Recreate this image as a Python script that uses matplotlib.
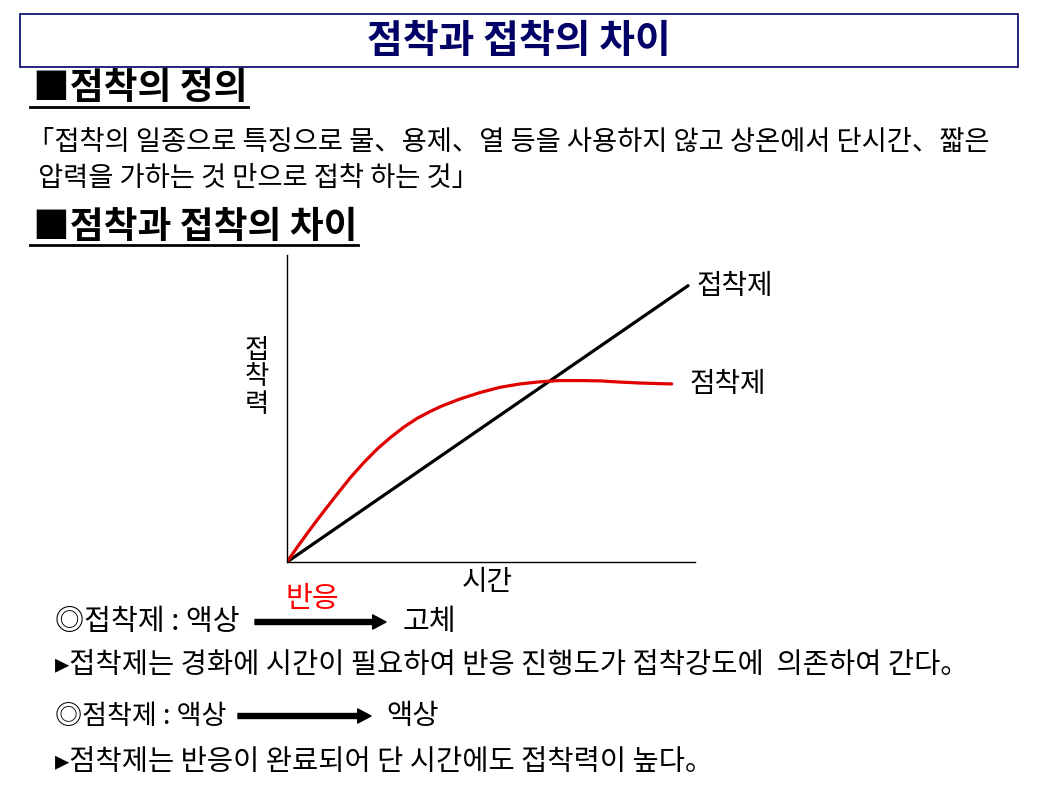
import matplotlib.pyplot as plt
from matplotlib.lines import Line2D
from matplotlib.patches import Rectangle, FancyArrowPatch

W, H = 1042, 802

# curve readings (x: time, y: bond strength, arbitrary 0-10 units)
adhesive_time = [0.0, 9.83]
adhesive_force = [0.0, 9.0]

psa_time = [0.0, 0.25, 0.50, 0.74, 0.99, 1.23, 1.56, 1.89, 2.21, 2.54, 2.87,
            3.19, 3.52, 3.81, 4.24, 4.73, 5.22, 5.71, 6.20, 6.69, 7.18, 7.67,
            8.16, 8.65, 9.14, 9.43]
psa_force = [0.0, 0.48, 0.94, 1.37, 1.80, 2.21, 2.76, 3.25, 3.68, 4.06, 4.40,
             4.68, 4.91, 5.09, 5.31, 5.52, 5.69, 5.80, 5.87, 5.91, 5.91, 5.90,
             5.86, 5.83, 5.81, 5.80]

title = "점착과 접착의 차이"
heading_1 = "■점착의 정의"
definition = ["「접착의 일종으로 특징으로 물、용제、열 등을 사용하지 않고 상온에서 단시간、짧은",
              "압력을 가하는 것 만으로 접착 하는 것」"]
heading_2 = "■점착과 접착의 차이"
line_labels = ["접착제", "점착제"]
y_label = "접\n착\n력"
x_label = "시간"

FONT = ['Noto Sans CJK KR', 'DejaVu Sans']
plt.rcParams['font.family'] = FONT


def fx(px):
    return px / W


def fy(py):
    return 1 - py / H


fig = plt.figure(figsize=(W / 100, H / 100), dpi=100)

# title box
fig.add_artist(Rectangle((fx(20), fy(67)), fx(1018) - fx(20), fy(14) - fy(67),
                         transform=fig.transFigure, fill=False,
                         edgecolor='#000066', linewidth=1.2))
fig.text(fx(519), fy(42), title, ha='center', va='center', fontsize=28,
         fontweight='bold', color='#000066')

# headings with underline
headings = []
headings.append(fig.text(fx(33), fy(89), heading_1, ha='left', va='center',
                         fontsize=26.5, fontweight='bold'))
headings.append(fig.text(fx(33), fy(227), heading_2, ha='left', va='center',
                         fontsize=26.5, fontweight='bold'))

fig.text(fx(27), fy(143), definition[0], ha='left', va='center', fontsize=19.7)
fig.text(fx(38), fy(178), definition[1], ha='left', va='center', fontsize=19.7)

# chart
ax = fig.add_axes([fx(287), fy(562), fx(695) - fx(287), fy(255) - fy(562)])
ax.plot(adhesive_time, adhesive_force, color='black', linewidth=2.3,
        solid_capstyle='round')
ax.plot(psa_time, psa_force, color='#e00000', linewidth=2.3,
        solid_capstyle='round', solid_joinstyle='round')
ax.set_xlim(0, 10)
ax.set_ylim(0, 10)
ax.set_xticks([])
ax.set_yticks([])
for side in ['top', 'right']:
    ax.spines[side].set_visible(False)
for side in ['left', 'bottom']:
    ax.spines[side].set_linewidth(1.0)

ax.annotate(line_labels[0], (adhesive_time[-1], adhesive_force[-1]),
            xytext=(6, 0), textcoords='offset points', ha='left', va='center',
            fontsize=20)
ax.annotate(line_labels[1], (psa_time[-1], psa_force[-1]),
            xytext=(13, 0), textcoords='offset points', ha='left', va='center',
            fontsize=20)

fig.text(fx(257), fy(377), y_label, ha='center', va='center', fontsize=19,
         linespacing=1.0)
fig.text(fx(487), fy(582), x_label, ha='center', va='center', fontsize=20)

# bottom notes
fig.text(fx(55), fy(622), "◎접착제 : 액상", ha='left', va='center', fontsize=21)
fig.text(fx(312), fy(599), "반응", ha='center', va='center', fontsize=21,
         color='#ff0000')
fig.text(fx(403), fy(622), "고체", ha='left', va='center', fontsize=21)
fig.text(fx(55), fy(665), "▸접착제는 경화에 시간이 필요하여 반응 진행도가 접착강도에  의존하여 간다。",
         ha='left', va='center', fontsize=20.5)
fig.text(fx(55), fy(716), "◎점착제 : 액상", ha='left', va='center', fontsize=19.5)
fig.text(fx(386), fy(716), "액상", ha='left', va='center', fontsize=20.5)
fig.text(fx(55), fy(762), "▸점착제는 반응이 완료되어 단 시간에도 접착력이 높다。",
         ha='left', va='center', fontsize=20.5)

for x0, x1, y in [(255, 386, 622), (238, 371, 716)]:
    fig.add_artist(FancyArrowPatch((fx(x0), fy(y)), (fx(x1), fy(y)),
                                   transform=fig.transFigure,
                                   arrowstyle='simple,head_length=0.8,head_width=0.85,tail_width=0.3',
                                   mutation_scale=12, color='black',
                                   shrinkA=0, shrinkB=0))

# underline under headings, sized from rendered text
fig.canvas.draw()
renderer = fig.canvas.get_renderer()
for t in headings:
    bb = t.get_window_extent(renderer)
    y_line = bb.y0 / H + 0.001
    fig.add_artist(Line2D([bb.x0 / W - 0.003, bb.x1 / W], [y_line, y_line],
                          transform=fig.transFigure, color='black', linewidth=2))

fig.savefig('out.png', dpi=100, facecolor='white')
